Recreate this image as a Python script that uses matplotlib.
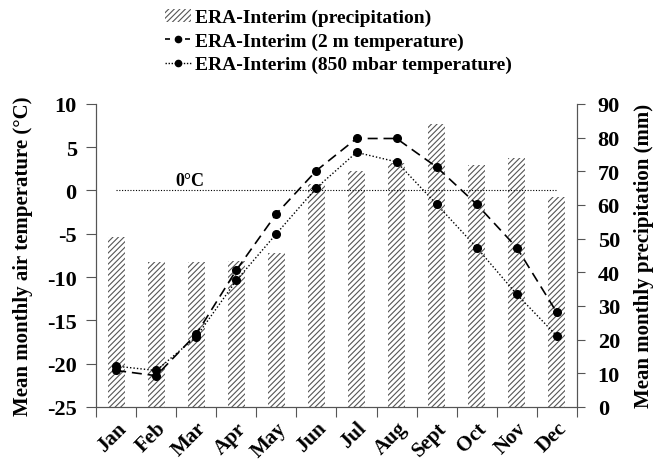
import matplotlib
matplotlib.use("Agg")
import matplotlib.pyplot as plt
from matplotlib.lines import Line2D
import numpy as np

# ── data ──────────────────────────────────────────────────────────────────────
MONTHS = ["Jan", "Feb", "Mar", "Apr", "May", "Jun",
          "Jul", "Aug", "Sept", "Oct", "Nov", "Dec"]
PRECIP = [50.5, 43.0, 43.0, 43.4, 45.8, 66.1,
          70.1, 72.4, 84.0, 71.8, 73.9, 62.2]
T2M = [-20.8, -21.4, -16.6, -9.2, -2.7, 2.3,
       6.0, 6.0, 2.7, -1.6, -6.6, -14.1]
T850 = [-20.3, -20.8, -16.9, -10.4, -5.0, 0.3,
        4.4, 3.3, -1.6, -6.6, -12.0, -16.8]

AXIS_COL = "#555555"

plt.rcParams.update({
    "font.family": ["Liberation Serif", "DejaVu Serif"],
    "font.weight": "bold",
    "hatch.linewidth": 0.8,
    "axes.unicode_minus": False,
})

fig = plt.figure(figsize=(6.54, 4.64), dpi=100)
ax = fig.add_axes([0.147, 0.121, 0.735, 0.653])
ax2 = ax.twinx()

x = np.arange(len(MONTHS))

# precipitation bars on the right axis
bars = ax2.bar(x, PRECIP, width=0.42, color="white", edgecolor="#555555",
               linewidth=0, hatch="//////", label="ERA-Interim (precipitation)")
ax2.set_ylim(0, 90)
ax2.set_yticks(range(0, 91, 10))

# temperature lines on the left axis
ax.plot(x, T2M, linestyle=(0, (6, 3.5)), color="black", linewidth=1.2,
        marker="o", markersize=5.5)
ax.plot(x, T850, linestyle=(0, (1, 1.5)), color="black", linewidth=1.0,
        marker="o", markersize=5.5)
ax.hlines(0, 0, 11, colors="black", linestyles=(0, (1, 1.5)), linewidth=0.8)
ax.text(1.85, 0.2, "0°C", fontsize=13, fontweight="bold", ha="center", va="bottom")

ax.set_zorder(ax2.get_zorder() + 1)
ax.patch.set_visible(False)

ax.set_xlim(-0.5, 11.5)
ax.set_ylim(-25, 10)
ax.set_yticks(range(-25, 11, 5))
ax.set_xticks(np.arange(-0.5, 12, 1))
ax.set_xticklabels([])
ax.set_xticks(x, minor=True)
ax.set_xticklabels(MONTHS, minor=True, rotation=45, ha="right",
                   rotation_mode="anchor", fontsize=15, fontweight="bold")
ax.tick_params(axis="x", which="major", length=7, direction="out", color=AXIS_COL)
ax.tick_params(axis="x", which="minor", length=0, pad=8)
ax.tick_params(axis="y", labelsize=16, length=7, pad=7, color=AXIS_COL)
ax2.tick_params(axis="y", labelsize=16, length=6, pad=9, color=AXIS_COL)

for a in (ax, ax2):
    a.spines["top"].set_visible(False)
    for s in ("left", "right", "bottom"):
        a.spines[s].set_color(AXIS_COL)

ax.set_ylabel("Mean monthly air temperature (°C)", fontsize=15,
              fontweight="bold", labelpad=10)
ax2.set_ylabel("Mean monthly precipitation (mm)", fontsize=15,
               fontweight="bold", labelpad=10)

# legend proxies with shorter dashes so the pattern shows in the short handle
h2 = Line2D([], [], linestyle=(0, (3, 3)), color="black", linewidth=1.2,
            marker="o", markersize=4.5)
h3 = Line2D([], [], linestyle=(0, (1, 1.2)), color="black", linewidth=1.0,
            marker="o", markersize=4.5)
fig.legend(handles=[bars, h2, h3],
           labels=["ERA-Interim (precipitation)",
                   "ERA-Interim (2 m temperature)",
                   "ERA-Interim (850 mbar temperature)"],
           loc="upper left", bbox_to_anchor=(0.238, 1.0),
           frameon=False, fontsize=14, handlelength=1.3, labelspacing=0.3,
           handletextpad=0.2, borderaxespad=0.1)

fig.savefig("out.png", dpi=100)
